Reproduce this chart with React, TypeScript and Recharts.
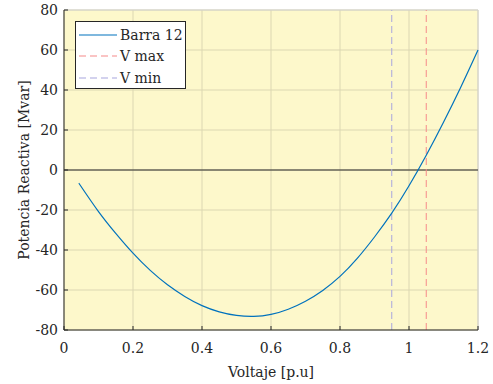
import { LineChart, Line, XAxis, YAxis, CartesianGrid, ReferenceLine, Legend, Label } from 'recharts';

// Reactive power vs. bus voltage for bus 12
const voltaje = [0.043, 0.1, 0.15, 0.2, 0.25, 0.3, 0.35, 0.4, 0.45, 0.5, 0.55, 0.6, 0.65, 0.7, 0.75, 0.8, 0.85, 0.9, 0.95, 1.0, 1.05, 1.1, 1.15, 1.2];
const qBarra12 = [-6.6, -20.8, -31.7, -41.6, -50.2, -57.4, -63.2, -67.8, -70.9, -72.7, -73.2, -72.2, -69.6, -65.6, -60.2, -53.2, -44.2, -33.5, -21.6, -7.9, 7.4, 23.9, 41.4, 60];

const xTicks = [0, 0.2, 0.4, 0.6, 0.8, 1, 1.2];
const yTicks = [-80, -60, -40, -20, 0, 20, 40, 60, 80];

const vMin = 0.95;
const vMax = 1.05;

const FONT = "'DejaVu Serif', serif";
const AXIS = '#262626';
const CURVE = '#0072BD';
const RED = '#f68a8a';
const LILAC = '#a8a6de';

const legendItems = [
  { name: 'Barra 12', color: CURVE, dash: undefined as string | undefined },
  { name: 'V max', color: RED, dash: '7 4' },
  { name: 'V min', color: LILAC, dash: '7 4' },
];

const data = voltaje.map((v, i) => ({ v, q: qBarra12[i] }));

const XTick = ({ x, y, payload }: any) => (
  <g>
    <line x1={x} x2={x} y1={y} y2={y - 4} stroke={AXIS} strokeWidth={1} />
    <text x={x} y={y + 23} textAnchor="middle" style={{ fontFamily: FONT }} fontSize={14} fill={AXIS}>
      {payload.value}
    </text>
  </g>
);

const YTick = ({ x, y, payload }: any) => (
  <g>
    <line x1={x} x2={x + 4} y1={y} y2={y} stroke={AXIS} strokeWidth={1} />
    <text x={x - 6} y={y + 5} textAnchor="end" style={{ fontFamily: FONT }} fontSize={14} fill={AXIS}>
      {payload.value}
    </text>
  </g>
);

const LegendBox = () => (
  <div
    style={{
      width: 109,
      height: 66,
      border: `1px solid ${AXIS}`,
      background: '#fff',
      fontFamily: FONT,
      fontSize: 14,
      color: AXIS,
      boxSizing: 'content-box',
    }}
  >
    {legendItems.map((item, i) => (
      <div key={item.name} style={{ display: 'flex', alignItems: 'center', height: 21.5, marginTop: i === 0 ? 2 : 0 }}>
        <svg width={44} height={10} style={{ display: 'block' }}>
          <line x1={3} x2={41} y1={5} y2={5} stroke={item.color} strokeWidth={1.2} strokeDasharray={item.dash} />
        </svg>
        <span style={{ lineHeight: '16px' }}>{item.name}</span>
      </div>
    ))}
  </div>
);

export default function App() {
  return (
    <div style={{ position: 'absolute', left: 0, top: 0, width: 493, height: 384, background: '#fff' }}>
      <LineChart width={493} height={384} data={data} margin={{ top: 10, right: 15, left: 0, bottom: 0 }}>
        <CartesianGrid stroke="#dcd7b2" strokeWidth={1} fill="#fdf8cb" fillOpacity={1} />
        <XAxis
          dataKey="v"
          type="number"
          domain={[0, 1.2]}
          ticks={xTicks}
          height={54}
          tickSize={0}
          tickMargin={0}
          tickLine={false}
          axisLine={{ stroke: AXIS }}
          tick={<XTick />}
          interval={0}
        >
          <Label
            content={({ viewBox }: any) => (
              <text x={viewBox.x + viewBox.width / 2} y={viewBox.y + 47} textAnchor="middle" style={{ fontFamily: FONT }} fontSize={14} fill={AXIS}>
                Voltaje [p.u]
              </text>
            )}
          />
        </XAxis>
        <YAxis
          type="number"
          domain={[-80, 80]}
          ticks={yTicks}
          width={64}
          tickSize={0}
          tickMargin={0}
          tickLine={false}
          axisLine={{ stroke: AXIS }}
          tick={<YTick />}
          interval={0}
        >
          <Label
            content={({ viewBox }: any) => {
              const cx = 29;
              const cy = viewBox.y + viewBox.height / 2;
              return (
                <text x={cx} y={cy} transform={`rotate(-90, ${cx}, ${cy})`} textAnchor="middle" style={{ fontFamily: FONT }} fontSize={14} fill={AXIS}>
                  Potencia Reactiva [Mvar]
                </text>
              );
            }}
          />
        </YAxis>
        <ReferenceLine y={80} stroke="#d2d2d2" strokeWidth={1} />
        <ReferenceLine x={1.2} stroke="#d2d2d2" strokeWidth={1} />
        <ReferenceLine y={0} stroke={AXIS} strokeWidth={1} />
        <ReferenceLine x={vMin} stroke={LILAC} strokeWidth={1} strokeDasharray="7 4" />
        <ReferenceLine x={vMax} stroke={RED} strokeWidth={1} strokeDasharray="7 4" />
        <Line type="natural" dataKey="q" stroke={CURVE} strokeWidth={1.2} dot={false} isAnimationActive={false} />
        <Legend
          layout="vertical"
          align="center"
          verticalAlign="middle"
          content={<LegendBox />}
          wrapperStyle={{ left: 75, top: 21, width: 111, height: 68 }}
        />
      </LineChart>
    </div>
  );
}
